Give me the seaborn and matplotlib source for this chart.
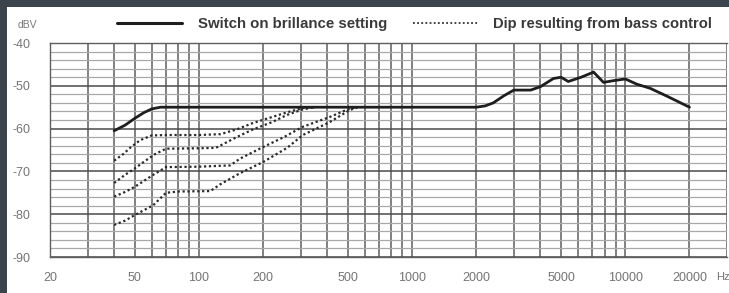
import numpy as np
import pandas as pd
import seaborn as sns
import matplotlib.pyplot as plt
from matplotlib.ticker import FixedLocator, LogLocator, NullFormatter
from matplotlib.patches import Rectangle
from matplotlib.lines import Line2D

# Switch on brillance setting (solid)
brill_freq = [40, 45, 50, 55, 60, 66, 100, 200, 500, 1000, 2000, 2200, 2400, 2700,
              3000, 3600, 4000, 4600, 5000, 5400, 6200, 7100, 7900, 8800, 10000,
              11300, 13100, 15800, 20000]
brill_db = [-60.5, -59.2, -57.6, -56.3, -55.4, -55, -55, -55, -55, -55, -55, -54.7,
            -54, -52.3, -51, -51, -50.2, -48.3, -48, -49, -48, -46.8, -49.2, -48.8,
            -48.4, -49.6, -50.6, -52.5, -55]

# Dip resulting from bass control (dotted), four settings
dip_a_freq = [40, 44, 48, 53, 60, 70, 100, 126, 150, 179, 220, 259, 307, 350]
dip_a_db = [-67.5, -66, -64.3, -62.7, -61.6, -61.5, -61.5, -61.3, -60.2, -58.7,
            -57.3, -56.2, -55.2, -55]
dip_b_freq = [40, 45, 50, 55, 62, 70, 100, 120, 150, 179, 220, 259, 307, 350]
dip_b_db = [-72.7, -70.8, -69.3, -67.8, -66, -64.7, -64.6, -64.5, -62, -60.2,
            -58.5, -56.8, -55.5, -55]
dip_c_freq = [40, 45, 50, 61, 70, 100, 140, 156, 200, 250, 306, 410, 494, 550]
dip_c_db = [-75.9, -74.8, -73.6, -70.8, -69, -68.9, -68.6, -67, -64.3, -62,
            -59.6, -57.3, -55.6, -55]
dip_d_freq = [40, 45, 50, 61, 70, 80, 113, 126, 156, 200, 259, 307, 410, 512, 560]
dip_d_db = [-82.5, -81.5, -80.2, -77.9, -75, -74.7, -74.6, -73, -70.4, -67.8,
            -64.5, -61.5, -58.5, -55.6, -55]

x_labels = [20, 50, 100, 200, 500, 1000, 2000, 5000, 10000, 20000]
y_labels = [-40, -50, -60, -70, -80, -90]

sns.set_style("white")
plt.rcParams['font.family'] = ['Liberation Sans', 'DejaVu Sans']

fig = plt.figure(figsize=(7.29, 2.93), dpi=100)
fig.patch.set_facecolor('#3b434c')
fig.patches.append(Rectangle((7 / 729, 0), 1, 1 - 7 / 293, transform=fig.transFigure,
                             facecolor='white', edgecolor='none', zorder=-5))

ax = fig.add_axes([50 / 729, 36 / 293, 677 / 729, 214 / 293])
ax.set_zorder(2)
ax.set_facecolor('white')

sns.lineplot(x=brill_freq, y=brill_db, ax=ax, color='#1e1e1e', lw=2.0,
             estimator=None, sort=False, zorder=5)
for fr, db in [(dip_a_freq, dip_a_db), (dip_b_freq, dip_b_db),
               (dip_c_freq, dip_c_db), (dip_d_freq, dip_d_db)]:
    sns.lineplot(x=fr, y=db, ax=ax, color='#2a2a2a', lw=1.6, linestyle=(0, (1, 1.2)),
                 estimator=None, sort=False, zorder=4)

ax.set_xscale('log')
ax.set_xlim(20, 30000)
ax.set_ylim(-90, -40)

ax.xaxis.set_major_locator(FixedLocator(x_labels))
ax.set_xticklabels([str(v) for v in x_labels])
ax.xaxis.set_minor_locator(LogLocator(base=10, subs=np.arange(1, 10), numticks=30))
ax.xaxis.set_minor_formatter(NullFormatter())
ax.yaxis.set_major_locator(FixedLocator(y_labels))
ax.set_yticklabels([str(v) for v in y_labels])
ax.yaxis.set_minor_locator(FixedLocator(np.arange(-90, -39, 2)))

ax.grid(which='major', axis='x', color='#5e5e5e', lw=1.1)
ax.grid(which='minor', axis='x', color='#5e5e5e', lw=1.1)
ax.grid(which='minor', axis='y', color='#a8a8a8', lw=0.9)
ax.grid(which='major', axis='y', color='#4a4a4a', lw=1.1)
ax.tick_params(which='major', length=5, width=1, color='#777777', labelsize=9,
               labelcolor='#747474', direction='out')
ax.tick_params(axis='x', which='major', pad=6)
ax.tick_params(axis='y', which='major', pad=10, length=4)
ax.tick_params(which='minor', length=0)
for s in ax.spines.values():
    s.set_color('#5e5e5e')
    s.set_linewidth(1.0)
ax.spines['right'].set_visible(False)
ax.set_xlabel('')
ax.set_ylabel('')

fig.text(18 / 729, 1 - 25 / 293, 'dBV', fontsize=7.5, color='#7a7a7a', va='center')
fig.text(716 / 729, 1 - 277 / 293, 'Hz', fontsize=8, color='#747474', va='center')

# legend row above the plot
fig.add_artist(Line2D([117 / 729, 182 / 729], [1 - 23 / 293] * 2, color='#1e1e1e', lw=2.2,
                      transform=fig.transFigure))
fig.text(198 / 729, 1 - 24 / 293, 'Switch on brillance setting', fontsize=10.8,
         fontweight='bold', color='#3a3a3a', va='center')
fig.add_artist(Line2D([413 / 729, 477 / 729], [1 - 23 / 293] * 2, color='#333333', lw=1.3,
                      linestyle=(0, (1, 1.3)), transform=fig.transFigure))
fig.text(493 / 729, 1 - 24 / 293, 'Dip resulting from bass control', fontsize=10.6,
         fontweight='bold', color='#3a3a3a', va='center')

fig.savefig('out.png', dpi=100, facecolor=fig.get_facecolor())
